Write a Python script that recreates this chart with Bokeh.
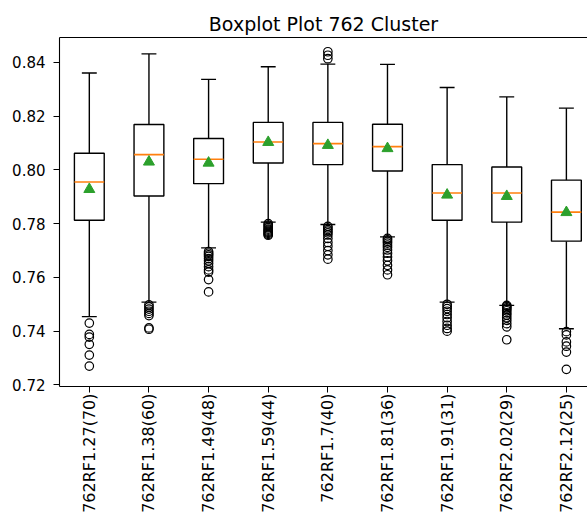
import math
from bokeh.plotting import figure
from bokeh.models import Range1d, FixedTicker, NumeralTickFormatter, LinearAxis, ColumnDataSource
from bokeh.embed import file_html
from bokeh.resources import INLINE

# Box statistics per cluster configuration
labels = ["762RF1.27(70)", "762RF1.38(60)", "762RF1.49(48)", "762RF1.59(44)", "762RF1.7(40)",
          "762RF1.81(36)", "762RF1.91(31)", "762RF2.02(29)", "762RF2.12(25)"]
whisker_hi = [0.8361, 0.8432, 0.8337, 0.8384, 0.8394, 0.8393, 0.8307, 0.8272, 0.8230]
q3 = [0.8062, 0.8169, 0.8117, 0.8177, 0.8177, 0.8170, 0.8020, 0.8011, 0.7962]
medians = [0.7955, 0.8057, 0.8040, 0.8104, 0.8098, 0.8087, 0.7914, 0.7914, 0.7843]
means = [0.7928, 0.8030, 0.8026, 0.8103, 0.8092, 0.8080, 0.7907, 0.7902, 0.7842]
q1 = [0.7813, 0.7903, 0.7949, 0.8026, 0.8020, 0.7996, 0.7813, 0.7806, 0.7735]
whisker_lo = [0.7454, 0.7508, 0.7710, 0.7806, 0.7797, 0.7751, 0.7508, 0.7496, 0.7409]

# Fliers beyond the whiskers
outliers = [
    [0.7430, 0.7388, 0.7378, 0.7351, 0.7311, 0.7270],
    [0.7498, 0.7490, 0.7482, 0.7474, 0.7466, 0.7458, 0.7412, 0.7407],
    [0.7696, 0.7690, 0.7684, 0.7678, 0.7670, 0.7662, 0.7652, 0.7640, 0.7628, 0.7620, 0.7592, 0.7546],
    [0.7800, 0.7795, 0.7790, 0.7785, 0.7780, 0.7776, 0.7772, 0.7768, 0.7764, 0.7760, 0.7757],
    [0.8440, 0.8427, 0.8414, 0.7790, 0.7784, 0.7778, 0.7772, 0.7766, 0.7758, 0.7745, 0.7730,
     0.7716, 0.7700, 0.7684, 0.7668],
    [0.7745, 0.7740, 0.7734, 0.7728, 0.7720, 0.7712, 0.7702, 0.7690, 0.7676, 0.7662, 0.7645,
     0.7628, 0.7610],
    [0.7500, 0.7492, 0.7484, 0.7474, 0.7462, 0.7450, 0.7436, 0.7422, 0.7410, 0.7400],
    [0.7496, 0.7492, 0.7487, 0.7482, 0.7476, 0.7468, 0.7460, 0.7450, 0.7440, 0.7428, 0.7416, 0.7368],
    [0.7398, 0.7386, 0.7360, 0.7344, 0.7322, 0.7258],
]
y_ticks = [0.72, 0.74, 0.76, 0.78, 0.80, 0.82, 0.84]

pos = list(range(1, len(labels) + 1))
box_w = 0.5
cap_w = 0.25

stats = ColumnDataSource(dict(
    x=pos, left=[p - box_w / 2 for p in pos], right=[p + box_w / 2 for p in pos],
    cap_l=[p - cap_w / 2 for p in pos], cap_r=[p + cap_w / 2 for p in pos],
    hi=whisker_hi, q3=q3, med=medians, mean=means, q1=q1, lo=whisker_lo,
))
fx, fy = [], []
for p, vals in zip(pos, outliers):
    fx += [p] * len(vals)
    fy += vals
fliers = ColumnDataSource(dict(x=fx, y=fy))

FONT = "DejaVu Sans"

p = figure(width=587, height=515, output_backend="svg", toolbar_location=None,
           x_range=Range1d(0.5, 9.354), y_range=Range1d(0.7194, 0.8493),
           min_border_left=59, min_border_right=0, min_border_top=37, min_border_bottom=129,
           title="Boxplot Plot 762 Cluster")
p.outline_line_color = None
p.xgrid.visible = False
p.ygrid.visible = False
p.background_fill_color = "white"
p.border_fill_color = "white"

p.title.align = "center"
p.title.text_font = FONT
p.title.text_font_size = "19px"
p.title.text_font_style = "normal"
p.title.text_color = "black"
p.title.standoff = 6

# whiskers and caps
p.segment(x0="x", y0="q3", x1="x", y1="hi", source=stats, line_color="black", line_width=1.4)
p.segment(x0="x", y0="lo", x1="x", y1="q1", source=stats, line_color="black", line_width=1.4)
p.segment(x0="cap_l", y0="hi", x1="cap_r", y1="hi", source=stats, line_color="black", line_width=1.4)
p.segment(x0="cap_l", y0="lo", x1="cap_r", y1="lo", source=stats, line_color="black", line_width=1.4)
# boxes
p.quad(left="left", right="right", bottom="q1", top="q3", source=stats,
       fill_color="white", line_color="black", line_width=1.4)
# medians
p.segment(x0="left", y0="med", x1="right", y1="med", source=stats, line_color="#ff7f0e", line_width=1.6)
# means
p.scatter(x="x", y="mean", source=stats, marker="triangle", size=11,
          fill_color="#2ca02c", line_color="#2ca02c")
# fliers
p.scatter(x="x", y="y", source=fliers, marker="circle", size=8.5,
          fill_color=None, line_color="black", line_width=1.2)

xa = p.xaxis[0]
xa.ticker = FixedTicker(ticks=pos)
xa.major_label_overrides = {i: lab for i, lab in zip(pos, labels)}
xa.major_label_orientation = math.pi / 2
xa.major_label_text_font = FONT
xa.major_label_text_font_size = "16px"
xa.major_label_text_color = "black"
xa.major_tick_out = 6
xa.major_tick_in = 0
xa.minor_tick_out = 0
xa.minor_tick_in = 0
xa.major_label_standoff = 1
xa.axis_line_color = "black"
xa.axis_line_width = 1.1

ya = p.yaxis[0]
ya.ticker = FixedTicker(ticks=y_ticks)
ya.formatter = NumeralTickFormatter(format="0.00")
ya.major_label_text_font = FONT
ya.major_label_text_font_size = "15px"
ya.major_label_text_color = "black"
ya.major_tick_out = 6
ya.major_tick_in = 0
ya.minor_tick_out = 0
ya.minor_tick_in = 0
ya.major_label_standoff = 8
ya.axis_line_color = "black"
ya.axis_line_width = 1.1

# top spine
top = LinearAxis(ticker=FixedTicker(ticks=[]), major_label_text_font_size="0px",
                 major_tick_out=0, major_tick_in=0, minor_tick_out=0, minor_tick_in=0,
                 axis_line_color="black", axis_line_width=1.1)
p.add_layout(top, "above")

open("out.html", "w").write(file_html(p, INLINE))
